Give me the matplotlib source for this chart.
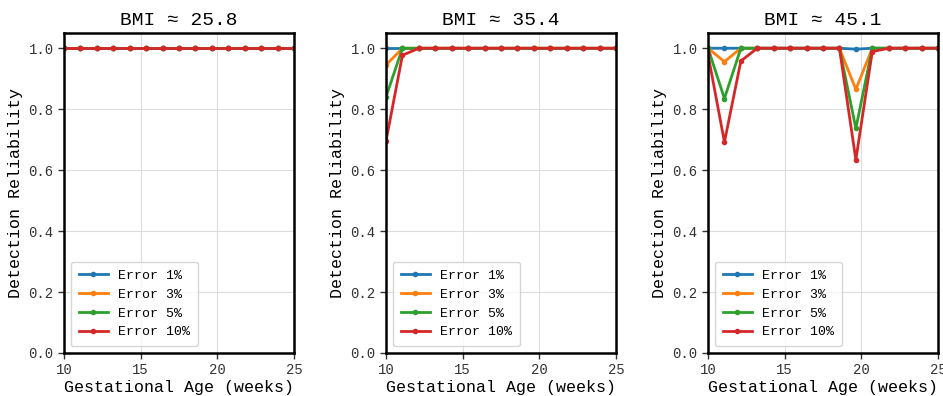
import numpy as np
import matplotlib
matplotlib.use("Agg")
import matplotlib.pyplot as plt

plt.rcParams['font.family'] = ['Liberation Mono', 'DejaVu Sans']

weeks = np.linspace(10, 25, 15)
titles = ["BMI ≈ 25.8", "BMI ≈ 35.4", "BMI ≈ 45.1"]
labels = ["Error 1%", "Error 3%", "Error 5%", "Error 10%"]
colors = ["#1f77b4", "#ff7f0e", "#2ca02c", "#d62728"]

ones = [1.0] * 15
panel1 = [ones, ones, ones, ones]
panel2 = [
    ones,
    [0.945] + [1.0] * 14,
    [0.84] + [1.0] * 14,
    [0.695, 0.977] + [1.0] * 13,
]
panel3 = [
    [1.0] * 9 + [0.997] + [1.0] * 5,
    [1.0, 0.956] + [1.0] * 7 + [0.865] + [1.0] * 5,
    [1.0, 0.835] + [1.0] * 7 + [0.737] + [1.0] * 5,
    [0.98, 0.692, 0.958] + [1.0] * 6 + [0.634, 0.989] + [1.0] * 4,
]
panels = [panel1, panel2, panel3]

fig = plt.figure(figsize=(9.43, 3.96), dpi=100)
lefts = [64, 386, 708]
W, H = 943, 396
for i, (left, data) in enumerate(zip(lefts, panels)):
    ax = fig.add_axes([left / W, (H - 353) / H, 230 / W, (353 - 33) / H])
    for vals, lab, c in zip(data, labels, colors):
        ax.plot(weeks, vals, '-o', color=c, lw=2, ms=3, label=lab)
    ax.set_xlim(10, 25)
    ax.set_ylim(0, 1.05)
    ax.set_xticks([10, 15, 20, 25])
    ax.set_yticks([0.0, 0.2, 0.4, 0.6, 0.8, 1.0])
    ax.grid(True, color='#dddddd', lw=0.8)
    ax.set_axisbelow(True)
    for s in ax.spines.values():
        s.set_linewidth(1.8)
        s.set_color('black')
    ax.tick_params(labelsize=10, length=4, width=1, colors='#333333')
    ax.set_title(titles[i], fontsize=14, pad=6)
    ax.set_xlabel("Gestational Age (weeks)", fontsize=12, labelpad=2)
    ax.set_ylabel("Detection Reliability", fontsize=12, labelpad=4)
    leg = ax.legend(loc='lower left', fontsize=9.5, frameon=True,
                    handlelength=2.2, borderpad=0.6, labelspacing=0.5)
    leg.get_frame().set_edgecolor('#cccccc')

fig.savefig("out.png", dpi=100)
